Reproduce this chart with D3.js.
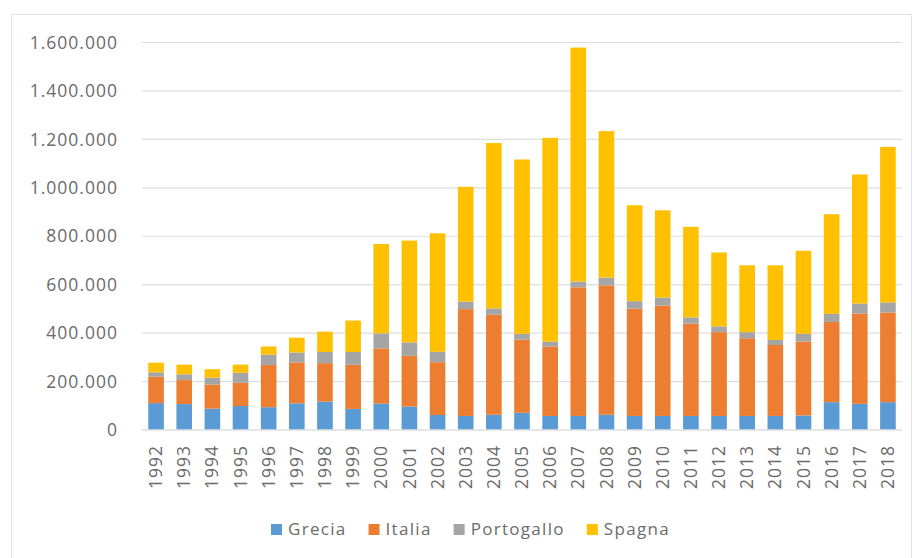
<!DOCTYPE html>
<html>
<head>
<meta charset="utf-8">
<script src="https://cdn.jsdelivr.net/npm/d3@7/dist/d3.min.js"></script>
<style>
  html, body { margin: 0; padding: 0; background: #ffffff; }
  svg { display: block; }
  text { font-family: "Open Sans", "DejaVu Sans", sans-serif; fill: #6b6b6b; }
</style>
</head>
<body>
<svg id="chart" width="914" height="558"></svg>
<script>
// Years on the category axis
const years = ["1992","1993","1994","1995","1996","1997","1998","1999","2000","2001","2002","2003","2004","2005","2006","2007","2008","2009","2010","2011","2012","2013","2014","2015","2016","2017","2018"];

// Series names, in stacking order (bottom to top)
const seriesNames = ["Grecia", "Italia", "Portogallo", "Spagna"];

// Values per series, one per year
const grecia     = [109000,105000,86000,97000,92000,108000,115000,85000,107000,95000,60000,56000,61000,69000,56000,56000,61000,56000,56000,56000,56000,56000,56000,58000,113000,106000,113000];
const italia     = [109000,99000,100000,96000,174000,169000,159000,182000,228000,209000,218000,441000,413000,302000,286000,531000,534000,443000,456000,381000,346000,321000,293000,305000,331000,373000,370000];
const portogallo = [18000,24000,28000,41000,43000,41000,46000,53000,62000,56000,43000,31000,26000,24000,21000,24000,32000,31000,33000,26000,24000,25000,21000,32000,33000,41000,42000];
const spagna     = [40000,40000,35000,34000,34000,61000,84000,130000,369000,420000,489000,474000,683000,720000,841000,966000,605000,396000,360000,374000,305000,276000,308000,343000,412000,533000,642000];

// Y axis tick values and labels
const yTicks = [0,200000,400000,600000,800000,1000000,1200000,1400000,1600000];
const yTickLabels = ["0","200.000","400.000","600.000","800.000","1.000.000","1.200.000","1.400.000","1.600.000"];

const colors = ["#5b9bd5", "#ed7d31", "#a5a5a5", "#ffc000"];

// Build the table d3.stack needs
const rows = years.map((y, i) => ({
  year: y,
  Grecia: grecia[i],
  Italia: italia[i],
  Portogallo: portogallo[i],
  Spagna: spagna[i]
}));

const svg = d3.select("#chart");

// Chart frame
svg.append("rect")
  .attr("x", 11.5).attr("y", 14.5)
  .attr("width", 900).attr("height", 560)
  .attr("fill", "#ffffff")
  .attr("stroke", "#e3e3e3")
  .attr("stroke-width", 1);

const plot = { left: 142, right: 902, top: 42, bottom: 429.5 };

const x = d3.scaleBand()
  .domain(years)
  .range([plot.left, plot.right])
  .paddingInner(0.445)
  .paddingOuter(0.2225);

const y = d3.scaleLinear()
  .domain([0, 1600000])
  .range([plot.bottom, plot.top]);

// Horizontal gridlines and y labels
const yAxis = d3.axisLeft(y)
  .tickValues(yTicks)
  .tickFormat((d, i) => yTickLabels[i])
  .tickSize(-(plot.right - plot.left))
  .tickPadding(24);

const gy = svg.append("g")
  .attr("transform", `translate(${plot.left},0)`)
  .call(yAxis);
gy.select(".domain").remove();
gy.selectAll(".tick line").attr("stroke", "#dedede").attr("stroke-width", 1.2);
gy.selectAll(".tick text")
  .attr("fill", "#6b6b6b")
  .style("font-size", "17.5px")
  .style("letter-spacing", "1px")
  .attr("x", 118 - plot.left)
  .attr("dy", "0.35em");

// Stacked bars
const stacked = d3.stack().keys(seriesNames)(rows);

svg.append("g")
  .selectAll("g")
  .data(stacked)
  .join("g")
  .attr("fill", (d, i) => colors[i])
  .selectAll("rect")
  .data(d => d)
  .join("rect")
  .attr("x", d => x(d.data.year))
  .attr("width", x.bandwidth())
  .attr("y", d => y(d[1]))
  .attr("height", d => y(d[0]) - y(d[1]));

// Category axis line and rotated year labels
const xAxis = d3.axisBottom(x).tickSize(0).tickPadding(0);
const gx = svg.append("g")
  .attr("transform", `translate(0,${plot.bottom})`)
  .call(xAxis);
gx.select(".domain").attr("stroke", "#dedede").attr("stroke-width", 1.2);
gx.selectAll(".tick text")
  .attr("fill", "#6b6b6b")
  .style("font-size", "17.5px")
  .style("letter-spacing", "1px")
  .attr("text-anchor", "end")
  .attr("transform", "rotate(-90)")
  .attr("x", -(445 - plot.bottom))
  .attr("y", 0)
  .attr("dy", "0.35em");

// Legend
const legend = svg.append("g").attr("transform", "translate(271,529.5)");
let lx = 0;
seriesNames.forEach((name, i) => {
  const item = legend.append("g").attr("transform", `translate(${lx},0)`);
  item.append("rect")
    .attr("x", 0).attr("y", -5.5)
    .attr("width", 11).attr("height", 11)
    .attr("fill", colors[i]);
  const t = item.append("text")
    .attr("x", 17).attr("y", 0)
    .attr("dy", "0.35em")
    .style("font-size", "17px")
    .style("letter-spacing", "1.3px")
    .text(name);
  lx += 17 + t.node().getComputedTextLength() + 22;
});
</script>
</body>
</html>
